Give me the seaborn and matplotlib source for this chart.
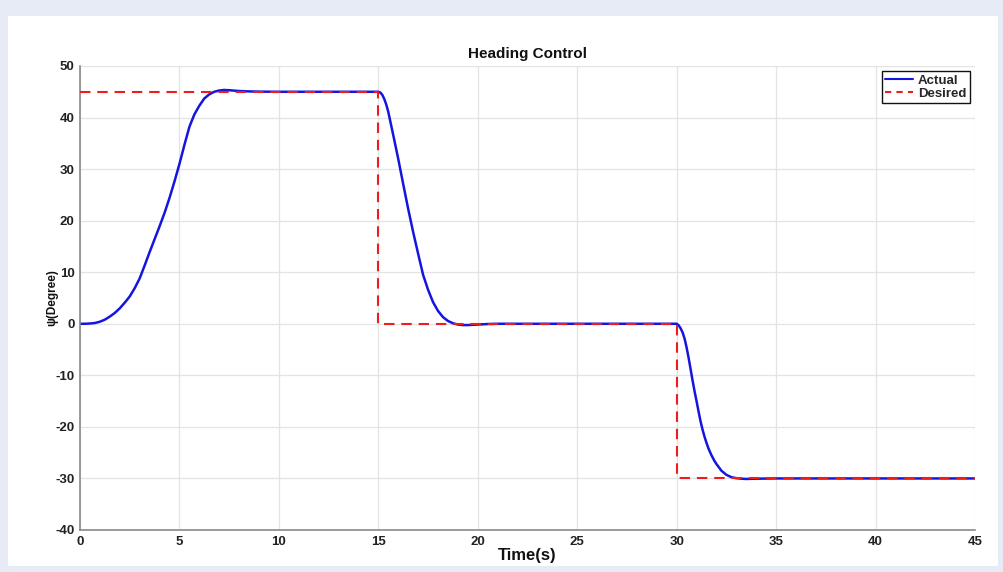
import matplotlib
matplotlib.use("Agg")
import matplotlib.pyplot as plt
from matplotlib.patches import Rectangle
from matplotlib.lines import Line2D
import pandas as pd
import seaborn as sns

# Heading response of the vessel (degrees) sampled over time (s)
actual_time = [0, 0.25, 0.5, 0.75, 1.0, 1.25, 1.5, 1.75, 2.0, 2.25, 2.5, 2.75,
               3.0, 3.25, 3.5, 3.75, 4.0, 4.25, 4.5, 4.75, 5.0, 5.25, 5.5, 5.75,
               6.0, 6.25, 6.5, 6.75, 7.0, 7.25, 7.5, 7.75, 8.0, 8.5, 9.0, 10, 12,
               14, 15.0, 15.1, 15.2, 15.3, 15.4, 15.5, 15.75, 16.0, 16.25, 16.5,
               16.75, 17.0, 17.25, 17.5, 17.75, 18.0, 18.25, 18.5, 18.75, 19.0,
               19.25, 19.5, 20.0, 20.5, 21, 24, 27, 30.0, 30.1, 30.2, 30.3, 30.4,
               30.5, 30.6, 30.7, 30.8, 30.9, 31.0, 31.1, 31.2, 31.3, 31.4, 31.5,
               31.6, 31.75, 31.9, 32.0, 32.25, 32.5, 32.75, 33.0, 33.25, 33.5,
               34.0, 35, 40, 45]
actual_heading = [0, 0.0, 0.05, 0.15, 0.4, 0.8, 1.4, 2.1, 3.0, 4.1, 5.3, 6.9,
                  8.8, 11.3, 13.9, 16.4, 18.9, 21.5, 24.4, 27.6, 31.0, 34.7, 38.2,
                  40.6, 42.3, 43.7, 44.5, 45.0, 45.25, 45.35, 45.3, 45.22, 45.15,
                  45.07, 45.03, 45.0, 45.0, 45.0,
                  45.0, 44.85, 44.4, 43.6, 42.5, 41.1, 36.6, 32.0, 27.1, 22.3,
                  17.8, 13.6, 9.5, 6.6, 4.2, 2.5, 1.3, 0.55, 0.1, -0.15, -0.25,
                  -0.25, -0.15, -0.05, 0.0, 0.0, 0.0,
                  0.0, -0.3, -0.9, -1.7, -2.9, -4.6, -6.6, -8.8, -11.0, -13.1,
                  -15.0, -17.0, -18.9, -20.5, -21.9, -23.1, -24.2, -25.5, -26.6,
                  -27.2, -28.5, -29.3, -29.75, -29.95, -30.05, -30.1, -30.05,
                  -30.0, -30.0, -30.0]

# Commanded heading (step changes)
desired_time = [0, 15, 15, 30, 30, 45]
desired_heading = [45, 45, 0, 0, -30, -30]

x_ticks = [0, 5, 10, 15, 20, 25, 30, 35, 40, 45]
y_ticks = [-40, -30, -20, -10, 0, 10, 20, 30, 40, 50]

actual_df = pd.DataFrame({"Time": actual_time, "Heading": actual_heading})
desired_df = pd.DataFrame({"Time": desired_time, "Heading": desired_heading})

sns.set_style("whitegrid")
plt.rcParams["font.family"] = ["Liberation Sans", "DejaVu Sans"]

fig = plt.figure(figsize=(10.04, 5.72), dpi=100)
fig.patch.set_facecolor("#e6ebf5")
panel = Rectangle((8 / 1004, 1 - 566 / 572), 990 / 1004, 550 / 572,
                  transform=fig.transFigure, facecolor="white",
                  edgecolor="none", zorder=-10)
fig.add_artist(panel)

ax = fig.add_axes([80 / 1004, 1 - 530 / 572, 895 / 1004, 464 / 572])
ax.set_facecolor("white")

sns.lineplot(data=desired_df, x="Time", y="Heading", ax=ax, color="#ee1c1c",
             linewidth=1.5, linestyle=(0, (5, 3.3)), sort=False,
             estimator=None, zorder=3)
sns.lineplot(data=actual_df, x="Time", y="Heading", ax=ax, color="#1515e0",
             linewidth=1.8, sort=False, estimator=None, zorder=2,
             solid_joinstyle="round", solid_capstyle="round")

ax.set_xlim(0, 45)
ax.set_ylim(-40, 50)
ax.set_xticks(x_ticks)
ax.set_yticks(y_ticks)
ax.set_xticklabels([str(v) for v in x_ticks], fontsize=9.5, fontweight="bold",
                   color="#222222")
ax.set_yticklabels([str(v) for v in y_ticks], fontsize=9.5, fontweight="bold",
                   color="#222222")

ax.grid(True, color="#e3e3e3", linewidth=0.9)
for side in ["top", "right"]:
    ax.spines[side].set_visible(False)
for side in ["left", "bottom"]:
    ax.spines[side].set_color("#8a8a8a")
    ax.spines[side].set_linewidth(1.2)
ax.tick_params(axis="both", direction="in", length=6, width=1.1,
               color="#8a8a8a")
ax.tick_params(axis="x", pad=4)
ax.tick_params(axis="y", pad=4)

ax.set_title("Heading Control", fontsize=11, fontweight="bold", pad=6,
             color="#111111")
ax.set_xlabel("Time(s)", fontsize=12, fontweight="bold", labelpad=0,
              color="#111111")
ax.set_ylabel("ψ(Degree)", fontsize=8.5, fontweight="bold", labelpad=-2,
              color="#111111")

handles = [Line2D([], [], color="#1515e0", linewidth=1.5),
           Line2D([], [], color="#ee1c1c", linewidth=1.5, linestyle=(0, (3, 2.5)))]
leg = ax.legend(handles, ["Actual", "Desired"], loc="upper right",
                frameon=True, fancybox=False, borderpad=0.25,
                handlelength=2.1, handletextpad=0.4, labelspacing=0.05,
                borderaxespad=0.4, prop={"weight": "bold", "size": 9.5})
leg.get_frame().set_edgecolor("#111111")
leg.get_frame().set_linewidth(1.0)
leg.get_frame().set_alpha(1)

fig.savefig("out.png", dpi=100, facecolor=fig.get_facecolor())
